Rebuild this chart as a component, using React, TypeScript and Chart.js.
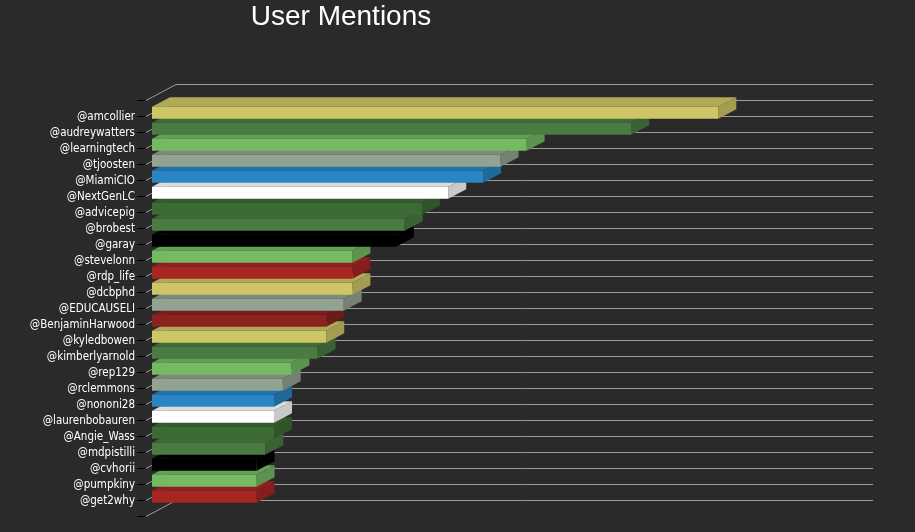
import { useEffect, useRef } from 'react';
import { Chart, registerables } from 'chart.js';

Chart.register(...registerables);

const users = [
  '@amcollier', '@audreywatters', '@learningtech', '@tjoosten', '@MiamiCIO',
  '@NextGenLC', '@advicepig', '@brobest', '@garay', '@stevelonn',
  '@rdp_life', '@dcbphd', '@EDUCAUSELI', '@BenjaminHarwood', '@kyledbowen',
  '@kimberlyarnold', '@rep129', '@rclemmons', '@nononi28', '@laurenbobauren',
  '@Angie_Wass', '@mdpistilli', '@cvhorii', '@pumpkiny', '@get2why',
];

const mentions = [
  65, 55, 43, 40, 38,
  34, 31, 29, 28, 23,
  23, 23, 22, 20, 20,
  19, 16, 15, 14, 14,
  14, 13, 12, 12, 12,
];

const xMin = 0;
const xMax = 80;

const YELLOW = '#CEC566';
const GREEN = '#4A7B41';
const LIGHTGREEN = '#74BA63';
const GRAY = '#93A393';
const BLUE = '#2886C3';
const WHITE = '#FFFFFF';
const DARKGREEN = '#3C6A34';
const BLACK = '#000000';
const RED = '#A82622';
const DARKRED = '#8A221F';

const barColors = [
  YELLOW, GREEN, LIGHTGREEN, GRAY, BLUE,
  WHITE, DARKGREEN, GREEN, BLACK, LIGHTGREEN,
  RED, YELLOW, GRAY, DARKRED, YELLOW,
  GREEN, LIGHTGREEN, GRAY, BLUE, WHITE,
  DARKGREEN, GREEN, BLACK, LIGHTGREEN, RED,
];

// 3D projection of the wall depth (pixels)
const DEPTH_DX = 30;
const DEPTH_DY = 16;
const BAR_FRONT = 0.2;
const BAR_BACK = 0.8;

function shade(hex: string, f: number): string {
  const n = parseInt(hex.slice(1), 16);
  const r = Math.round(((n >> 16) & 255) * f);
  const g = Math.round(((n >> 8) & 255) * f);
  const b = Math.round((n & 255) * f);
  return `rgb(${r},${g},${b})`;
}

const threeDPlugin = {
  id: 'threeD',
  beforeDatasetsDraw(chart: any) {
    const { ctx, chartArea, scales } = chart;
    const yScale = scales.y;
    ctx.save();
    // back wall grid lines + floor diagonals
    ctx.strokeStyle = '#9c9c9c';
    ctx.lineWidth = 1;
    const nTicks = yScale.ticks.length;
    for (let i = 0; i < nTicks; i++) {
      const py = Math.round(yScale.getPixelForTick(i)) + 0.5;
      ctx.beginPath();
      ctx.moveTo(chartArea.left, py);
      ctx.lineTo(chartArea.left + DEPTH_DX, py - DEPTH_DY);
      ctx.lineTo(chartArea.right + DEPTH_DX, py - DEPTH_DY);
      ctx.stroke();
    }
    // top and side faces of the bars, drawn bottom to top
    const meta = chart.getDatasetMeta(0);
    const data = chart.data.datasets[0].data;
    const colors = chart.data.datasets[0].backgroundColor;
    const fx = DEPTH_DX * BAR_FRONT;
    const fy = -DEPTH_DY * BAR_FRONT;
    const bx = DEPTH_DX * BAR_BACK;
    const by = -DEPTH_DY * BAR_BACK;
    for (let i = meta.data.length - 1; i >= 0; i--) {
      if (data[i] == null) continue;
      const el = meta.data[i];
      const p = el.getProps(['x', 'y', 'base', 'height'], true);
      const top = p.y - p.height / 2;
      const bottom = p.y + p.height / 2;
      const col = colors[i];
      // top face
      ctx.fillStyle = shade(col, 0.86);
      ctx.beginPath();
      ctx.moveTo(p.base + fx, top + fy);
      ctx.lineTo(p.x + fx, top + fy);
      ctx.lineTo(p.x + bx, top + by);
      ctx.lineTo(p.base + bx, top + by);
      ctx.closePath();
      ctx.fill();
      // side face
      ctx.fillStyle = shade(col, 0.79);
      ctx.beginPath();
      ctx.moveTo(p.x + fx, top + fy);
      ctx.lineTo(p.x + bx, top + by);
      ctx.lineTo(p.x + bx, bottom + by);
      ctx.lineTo(p.x + fx, bottom + fy);
      ctx.closePath();
      ctx.fill();
    }
    ctx.restore();
  },
  beforeDatasetDraw(chart: any) {
    chart.ctx.save();
    chart.ctx.translate(DEPTH_DX * BAR_FRONT, -DEPTH_DY * BAR_FRONT);
  },
  afterDatasetDraw(chart: any) {
    chart.ctx.restore();
  },
  afterDraw(chart: any) {
    const ctx = chart.ctx;
    ctx.save();
    ctx.fillStyle = '#FFFFFF';
    ctx.font = '28px "Liberation Sans", Arial, sans-serif';
    ctx.textAlign = 'center';
    ctx.textBaseline = 'alphabetic';
    ctx.fillText('User Mentions', 341, 25);
    ctx.restore();
  },
};

export default function App() {
  const canvasRef = useRef<HTMLCanvasElement | null>(null);

  useEffect(() => {
    if (!canvasRef.current) return;
    const labels = ['', ...users, ''];
    const values = [null, ...mentions, null];
    const colors = [BLACK, ...barColors, BLACK];
    const chart = new Chart(canvasRef.current, {
      type: 'bar',
      data: {
        labels,
        datasets: [
          {
            label: 'Mentions',
            data: values as any,
            backgroundColor: colors,
            borderWidth: 0,
            barPercentage: 0.75,
            categoryPercentage: 1,
            clip: false as any,
          },
        ],
      },
      options: {
        indexAxis: 'y',
        responsive: false,
        animation: false,
        events: [],
        layout: { padding: { left: 0, right: 72, top: 100, bottom: 16 } },
        plugins: {
          legend: { display: false },
          title: { display: false },
          tooltip: { enabled: false },
        },
        scales: {
          x: { type: 'linear', min: xMin, max: xMax, display: false },
          y: {
            type: 'category',
            offset: false,
            grid: {
              offset: false,
              drawOnChartArea: false,
              drawTicks: true,
              tickLength: 9,
              color: '#000000',
              tickColor: '#000000',
            },
            border: { display: false },
            ticks: {
              autoSkip: false,
              padding: 2,
              labelOffset: 1,
              color: '#FFFFFF',
              font: { family: 'Tahoma, "DejaVu Sans Condensed", "DejaVu Sans", sans-serif', size: 11.5 },
            },
            afterFit: (scale: any) => {
              scale.width = 146;
            },
          },
        },
      },
      plugins: [threeDPlugin],
    });
    return () => chart.destroy();
  }, []);

  return (
    <div
      style={{
        position: 'fixed',
        left: 0,
        top: 0,
        width: 915,
        height: 532,
        background: '#2A2A2A',
      }}
    >
      <canvas ref={canvasRef} width={915} height={532} />
    </div>
  );
}
